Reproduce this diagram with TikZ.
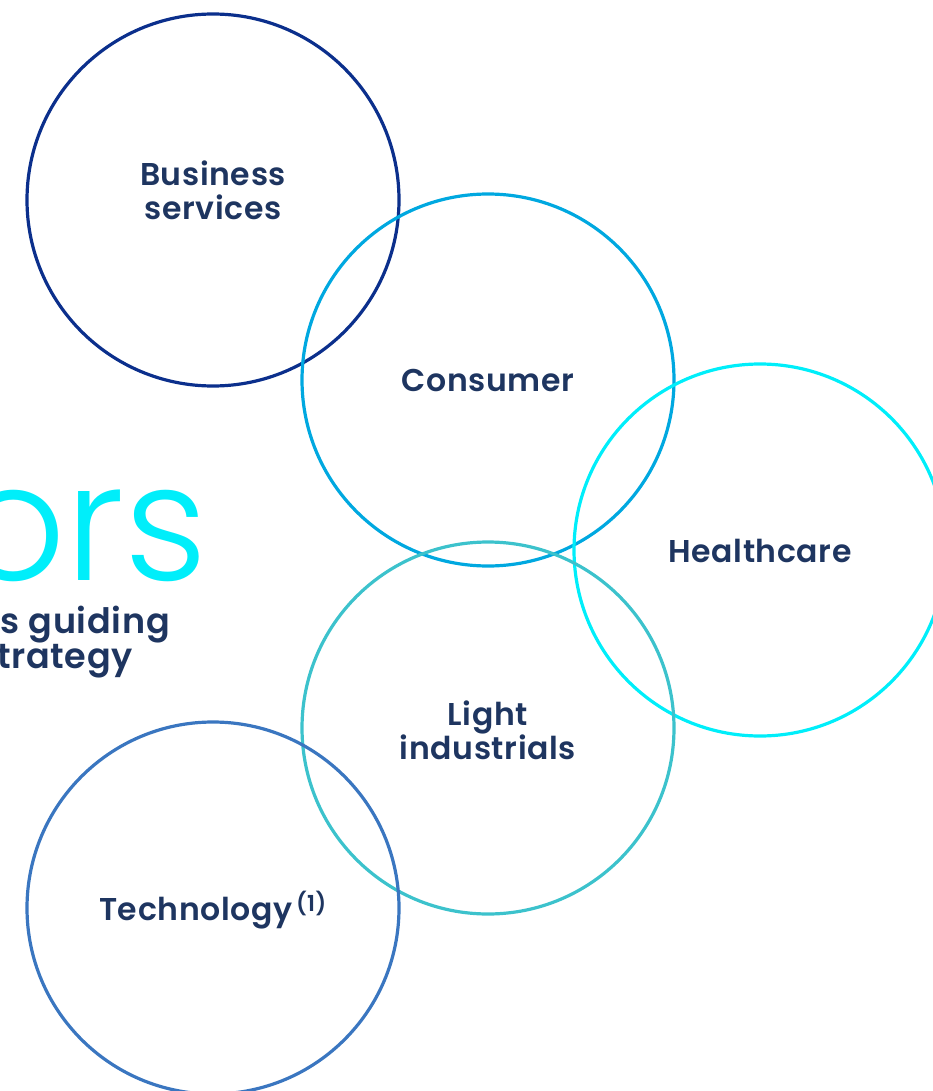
\documentclass[tikz,border=0pt]{standalone}
\usepackage{fontspec}
\setmainfont{Poppins}[BoldFont={* SemiBold}]
\newfontfamily\labelfont{Poppins SemiBold}[LetterSpace=2]
\newfontfamily\thinfont{Poppins Light}
\begin{document}
\begin{tikzpicture}[x=1pt,y=-1pt,
  sector/.style={circle,draw,line width=3.2pt,minimum size=372pt,inner sep=0pt},
  sectorlabel/.style={text=labelnavy,font=\labelfont\fontsize{31.5}{34}\selectfont,align=center,inner sep=0pt},
  leadtext/.style={text=labelnavy,font=\labelfont\fontsize{35}{36}\selectfont,anchor=base east,inner sep=0pt}]
\definecolor{labelnavy}{HTML}{1E3560}
\definecolor{bizblue}{HTML}{0B2F8C}
\definecolor{consblue}{HTML}{00A8E0}
\definecolor{healthcyan}{HTML}{00EEFA}
\definecolor{lightteal}{HTML}{3CC2CC}
\definecolor{techblue}{HTML}{3A76C0}
\useasboundingbox (0,0) rectangle (932,1091);
% heading fragment on the left
\node[text=healthcyan,font=\thinfont\fontsize{163}{163}\selectfont,anchor=base east,inner sep=0pt] (title) at (208,580) {ors};
\node[leadtext] (sub1) at (170,633) {s guiding};
\node[leadtext] (sub2) at (133,668) {trategy};
% sector circles
\node[sector,draw=bizblue] (biz) at (213,200) {};
\node[sector,draw=consblue] (cons) at (488,380) {};
\node[sector,draw=healthcyan] (health) at (760,550) {};
\node[sector,draw=lightteal] (light) at (488,728) {};
\node[sector,draw=techblue] (tech) at (213,908) {};
% sector names
\node[sectorlabel] (bizname) at (213,190) {Business\\services};
\node[sectorlabel] (consname) at (488,381) {Consumer};
\node[sectorlabel] (healthname) at (760,551) {Healthcare};
\node[sectorlabel] (lightname) at (488,730) {Light\\industrials};
\node[sectorlabel] (techname) at (213,910) {Technology\textsuperscript{\,(1)}};
\end{tikzpicture}
\end{document}
